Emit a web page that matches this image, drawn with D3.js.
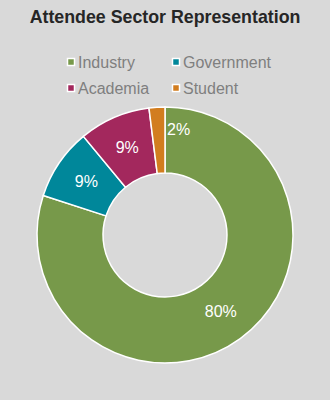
<!DOCTYPE html>
<html>
<head>
<meta charset="utf-8">
<script src="https://cdn.jsdelivr.net/npm/d3@7"></script>
<style>
  body { margin: 0; background: #d9d9d9; }
  svg { display: block; }
</style>
</head>
<body>
<script>
// chart data
const sectors = ["Industry", "Government", "Academia", "Student"];
const shares = [80, 9, 9, 2];
const colors = ["#77994a", "#00879a", "#a3285d", "#d27d1f"];

const width = 330, height = 400;
const cx = 165, cy = 235, outerR = 128, innerR = 62;

const svg = d3.select("body").append("svg")
  .attr("width", width)
  .attr("height", height)
  .style("font-family", "'Liberation Sans', Arial, sans-serif");

svg.append("rect").attr("width", width).attr("height", height).attr("fill", "#d9d9d9");

svg.append("text")
  .attr("x", width / 2)
  .attr("y", 23)
  .attr("text-anchor", "middle")
  .attr("font-size", "17.8px")
  .attr("font-weight", "bold")
  .attr("fill", "#262626")
  .text("Attendee Sector Representation");

// legend, two columns
const legendX = [67, 172], legendY = [62, 88];
const legend = svg.append("g").selectAll("g")
  .data(sectors)
  .enter().append("g")
  .attr("transform", function(d, i) {
    return "translate(" + legendX[i % 2] + "," + legendY[Math.floor(i / 2)] + ")";
  });

legend.append("rect")
  .attr("x", 0.5).attr("y", -3.5)
  .attr("width", 7).attr("height", 7)
  .attr("fill", function(d, i) { return colors[i]; })
  .attr("stroke", "#fff")
  .attr("stroke-width", 1.5);

legend.append("text")
  .attr("x", 11)
  .attr("y", 6)
  .attr("font-size", "16px")
  .attr("fill", "#7f7f7f")
  .text(function(d) { return d; });

// donut
const pie = d3.pie().sort(null).value(function(d) { return d; });
const arc = d3.arc().innerRadius(innerR).outerRadius(outerR);
const labelArc = d3.arc().innerRadius(95).outerRadius(95);

const g = svg.append("g").attr("transform", "translate(" + cx + "," + cy + ")");
const arcs = pie(shares);

g.selectAll("path")
  .data(arcs)
  .enter().append("path")
  .attr("d", arc)
  .attr("fill", function(d, i) { return colors[i]; })
  .attr("stroke", "#fff")
  .attr("stroke-width", 1.5);

g.selectAll("text.lbl")
  .data(arcs)
  .enter().append("text")
  .attr("class", "lbl")
  .attr("transform", function(d) {
    let c = labelArc.centroid(d);
    // small slice: label pushed past the slice end, like the original
    if (d.endAngle - d.startAngle < 0.2) {
      const r = 106;
      c = [Math.sin(d.endAngle) * r + 2, -Math.cos(d.endAngle) * r];
    }
    return "translate(" + c[0] + "," + c[1] + ")";
  })
  .attr("text-anchor", function(d) { return (d.endAngle - d.startAngle < 0.2) ? "start" : "middle"; })
  .attr("dy", "0.35em")
  .attr("font-size", "16px")
  .attr("fill", "#fff")
  .text(function(d) { return d.data + "%"; });
</script>
</body>
</html>
